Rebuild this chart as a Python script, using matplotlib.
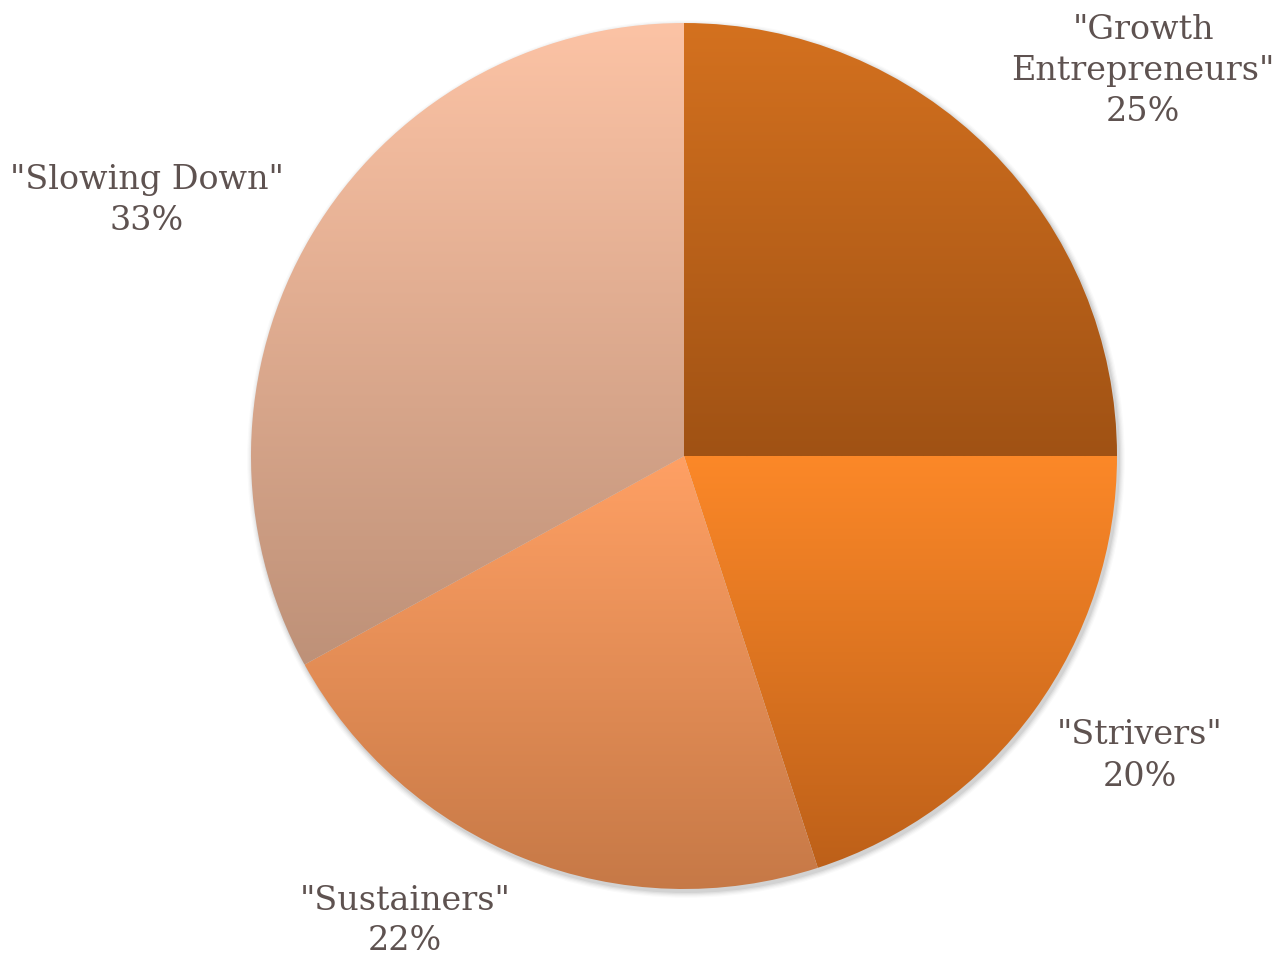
import numpy as np
import matplotlib
matplotlib.use("Agg")
import matplotlib.pyplot as plt
from matplotlib.colors import LinearSegmentedColormap

labels = ['"Growth\nEntrepreneurs"', '"Strivers"', '"Sustainers"', '"Slowing Down"']
values = [25, 20, 22, 33]
top_colors = ["#d4711f", "#fc8828", "#ffa064", "#fcc3a5"]
bottom_colors = ["#a05214", "#bd6019", "#c57846", "#be9178"]
label_pos = [(1143, 71), (1140, 756), (405, 921), (147, 201)]

W, H = 1274, 959
fig = plt.figure(figsize=(W / 100, H / 100), dpi=100)
ax = fig.add_axes([0, 0, 1, 1])
ax.set_xlim(0, W)
ax.set_ylim(0, H)
ax.axis("off")

cx, cy, r = 684, H - 456, 433

# soft shadow
for i, a in enumerate(np.linspace(0.05, 0.02, 5)):
    circ = plt.Circle((cx + 2, cy - 3), r + 1 + i * 1.2, color="black", alpha=a, lw=0, zorder=0)
    ax.add_patch(circ)

wedges, _ = ax.pie(values, center=(cx, cy), radius=r, startangle=90, counterclock=False,
                   wedgeprops=dict(linewidth=0, alpha=0), frame=False)
ax.set_xlim(0, W)
ax.set_ylim(0, H)
ax.set_aspect("auto")

for w, ct, cb in zip(wedges, top_colors, bottom_colors):
    path = w.get_path()
    verts = w.get_transform().transform(path.vertices)
    verts = ax.transData.inverted().transform(verts)
    y0, y1 = verts[:, 1].min(), verts[:, 1].max()
    x0, x1 = verts[:, 0].min(), verts[:, 0].max()
    cmap = LinearSegmentedColormap.from_list("g", [cb, ct])
    grad = np.linspace(0, 1, 256).reshape(-1, 1)
    im = ax.imshow(grad, cmap=cmap, extent=(x0, x1, y0, y1), origin="lower",
                   aspect="auto", zorder=2, interpolation="bilinear")
    im.set_clip_path(w)

ax.set_xlim(0, W)
ax.set_ylim(0, H)

for lab, v, (lx, ly) in zip(labels, values, label_pos):
    ax.text(lx, H - ly, f"{lab}\n{v}%", ha="center", va="center", fontsize=24,
            family="DejaVu Serif", color="#5e5250", linespacing=1.36, zorder=5)

fig.savefig("out.png", dpi=100)
